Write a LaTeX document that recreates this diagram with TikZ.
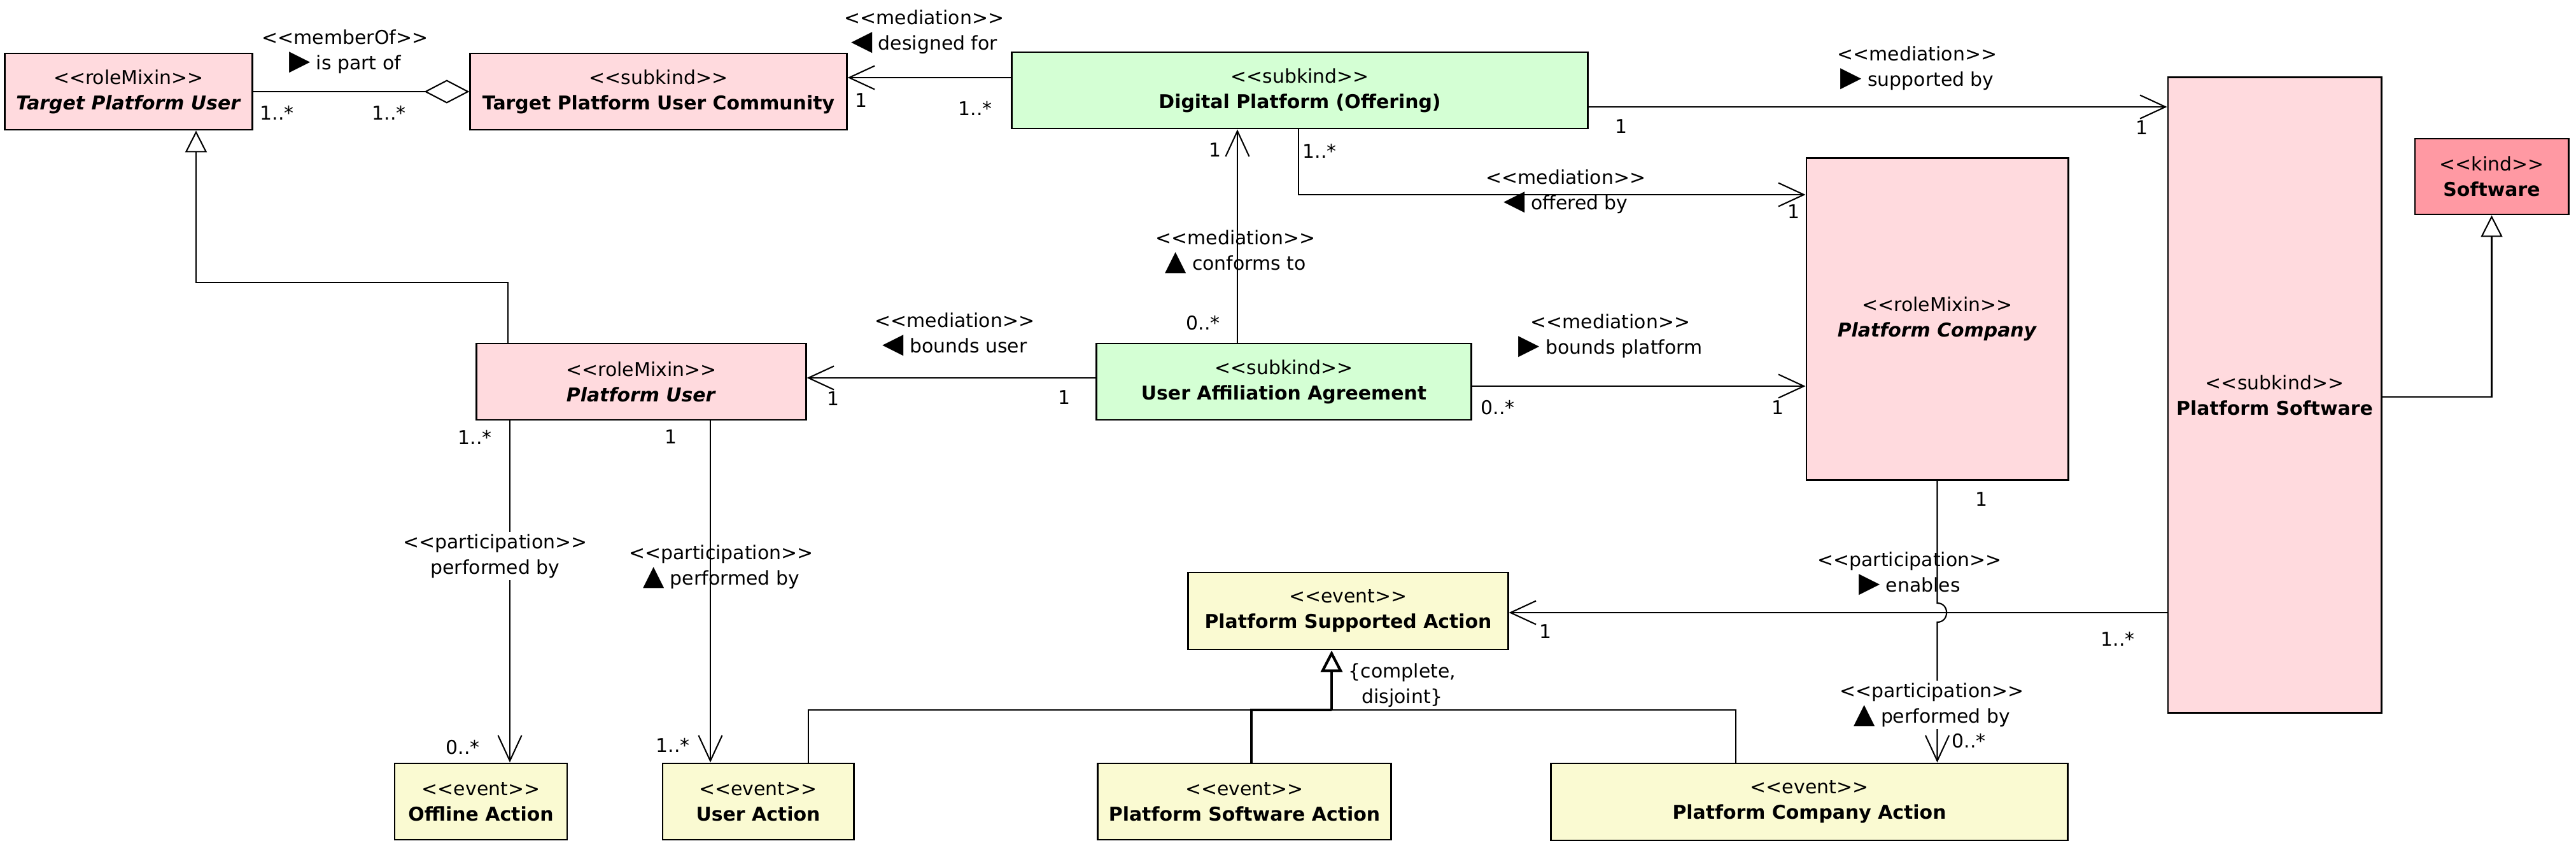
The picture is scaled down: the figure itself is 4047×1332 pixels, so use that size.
\documentclass[tikz,border=0pt]{standalone}
\usepackage{fontspec}
\usepackage{graphicx}
\usetikzlibrary{arrows.meta}
\newfontfamily\umlfont{DejaVu Sans}
\definecolor{rolepink}{RGB}{255,218,222}
\definecolor{kindpink}{RGB}{255,153,163}
\definecolor{relgreen}{RGB}{212,255,212}
\definecolor{eventyellow}{RGB}{250,250,210}
\newcommand{\readdir}[1]{\scalebox{1.45}{#1}}

\tikzset{
    umlbox/.style={draw, line width=0.8pt, align=center, inner sep=0pt},
    assoc/.style={line width=0.6pt},
    navi/.style={assoc, -{Straight Barb[length=4mm, width=3.7mm]}},
    gen/.style={assoc, -{Triangle[open, length=3.4mm, width=3.4mm, fill=white]}},
    agg/.style={assoc, -{Diamond[open, length=7.1mm, width=3.7mm, fill=white]}},
    lbl/.style={align=center, inner sep=1pt},
    mult/.style={inner sep=0pt},
}

\begin{document}
\begin{tikzpicture}[x=0.01cm, y=-0.01cm, font=\umlfont\fontsize{8.5}{11.4}\selectfont]
    \useasboundingbox (0,0) rectangle (4047,1332);

    % Top row
    \node[umlbox, fill=rolepink, minimum width=3.88cm, minimum height=1.2cm] (tpu) at (202,144) {<<roleMixin>>\\\textbf{\textit{Target Platform User}}};
    \node[umlbox, fill=rolepink, minimum width=5.91cm, minimum height=1.2cm] (tpuc) at (1034.5,144) {<<subkind>>\\\textbf{Target Platform User Community}};
    \node[umlbox, fill=relgreen, minimum width=9.04cm, minimum height=1.2cm] (dp) at (2042,142) {<<subkind>>\\\textbf{Digital Platform (Offering)}};
    \node[umlbox, fill=kindpink, minimum width=2.41cm, minimum height=1.19cm] (sw) at (3914.5,277.5) {<<kind>>\\\textbf{Software}};

    % Tall boxes
    \node[umlbox, fill=rolepink, minimum width=4.11cm, minimum height=5.05cm] (pc) at (3043.5,501.5) {<<roleMixin>>\\\textbf{\textit{Platform Company}}};
    \node[umlbox, fill=rolepink, minimum width=3.35cm, minimum height=9.98cm] (ps) at (3573.5,621) {<<subkind>>\\\textbf{Platform Software}};

    % Middle row
    \node[umlbox, fill=rolepink, minimum width=5.17cm, minimum height=1.2cm] (pu) at (1007.5,600) {<<roleMixin>>\\\textbf{\textit{Platform User}}};
    \node[umlbox, fill=relgreen, minimum width=5.88cm, minimum height=1.2cm] (uaa) at (2017,600) {<<subkind>>\\\textbf{User Affiliation Agreement}};
    \node[umlbox, fill=eventyellow, minimum width=5.02cm, minimum height=1.21cm] (psa) at (2118,960.5) {<<event>>\\\textbf{Platform Supported Action}};

    % Events
    \node[umlbox, fill=eventyellow, minimum width=2.71cm, minimum height=1.2cm] (oa) at (755.5,1260) {<<event>>\\\textbf{Offline Action}};
    \node[umlbox, fill=eventyellow, minimum width=3.00cm, minimum height=1.2cm] (ua) at (1191,1260) {<<event>>\\\textbf{User Action}};
    \node[umlbox, fill=eventyellow, minimum width=4.60cm, minimum height=1.2cm] (psoa) at (1955,1260) {<<event>>\\\textbf{Platform Software Action}};
    \node[umlbox, fill=eventyellow, minimum width=8.11cm, minimum height=1.21cm] (pca) at (2842.5,1260.5) {<<event>>\\\textbf{Platform Company Action}};

    % Mediations
    \draw[agg] (tpu.east) -- (tpuc.west);
    \draw[navi] (dp.west |- 0,122) -- (tpuc.east |- 0,122);
    \draw[navi] (dp.east |- 0,168) -- (ps.west |- 0,168);
    \draw[navi] (uaa.north -| 1944,0) -- (dp.south -| 1944,0);
    \draw[navi] (dp.south -| 2040,0) |- (pc.west |- 0,306);
    \draw[navi] (uaa.west |- 0,594) -- (pu.east |- 0,594);
    \draw[navi] (uaa.east |- 0,607) -- (pc.west |- 0,607);

    % Generalizations
    \draw[gen] (pu.north -| 798,0) |- (308,444) -- (tpu.south -| 308,0);
    \draw[gen] (ps.east |- 0,624) -| (sw.south);
    \coordinate (gsplit) at (2092,1116);
    \draw[assoc] (ua.north -| 1270,0) |- (gsplit);
    \draw[assoc] (pca.north -| 2727,0) |- (gsplit);
    \draw[assoc, line width=1.2pt] (psoa.north -| 1966,0) |- (gsplit);
    \draw[gen, line width=1.2pt] (gsplit) -- (psa.south -| gsplit);

    % Participations
    \draw[navi] (pu.south -| 801,0) -- (oa.north -| 801,0);
    \draw[navi] (pu.south -| 1116,0) -- (ua.north -| 1116,0);
    \draw[navi] (ps.west |- 0,963) -- (psa.east |- 0,963);
    \draw[navi] (pc.south) -- (pc.south |- 0,948) .. controls (3063,948) and (3063,978) .. (pc.south |- 0,978) -- (pca.north -| pc.south);

    % Labels
    \node[lbl] (memberof) at (542,81) {<<memberOf>>\\\readdir{▶} is part of};
    \node[lbl] (designed) at (1452,50) {<<mediation>>\\\readdir{◀} designed for};
    \node[lbl] (supported) at (3012,107) {<<mediation>>\\\readdir{▶} supported by};
    \node[lbl] (conforms) at (1941,396) {<<mediation>>\\\readdir{▲} conforms to};
    \node[lbl] (offered) at (2460,301) {<<mediation>>\\\readdir{◀} offered by};
    \node[lbl] (boundsuser) at (1500,526) {<<mediation>>\\\readdir{◀} bounds user};
    \node[lbl] (boundsplat) at (2530,528) {<<mediation>>\\\readdir{▶} bounds platform};
    \node[lbl, fill=white] (perfoff) at (778,874) {<<participation>>\\performed by};
    \node[lbl] (perfua) at (1133,891) {<<participation>>\\\readdir{▲} performed by};
    \node[lbl] (enables) at (3000,902) {<<participation>>\\\readdir{▶} enables};
    \node[lbl, fill=white] (perfpc) at (3035,1108) {<<participation>>\\\readdir{▲} performed by};
    \node[lbl] (complete) at (2203,1077) {\{complete,\\disjoint\}};

    % Multiplicities
    \node[mult] (m1) at (435,177) {1..*};
    \node[mult] (m2) at (611,177) {1..*};
    \node[mult] (m3) at (1353,158) {1};
    \node[mult] (m4) at (1532,170) {1..*};
    \node[mult] (m5) at (2547,199) {1};
    \node[mult] (m6) at (3365,201) {1};
    \node[mult] (m7) at (1909,236) {1};
    \node[mult] (m8) at (1890,508) {0..*};
    \node[mult] (m9) at (2073,237) {1..*};
    \node[mult] (m10) at (2818,333) {1};
    \node[mult] (m11) at (1309,627) {1};
    \node[mult] (m12) at (1672,625) {1};
    \node[mult] (m13) at (2353,641) {0..*};
    \node[mult] (m14) at (2793,641) {1};
    \node[mult] (m15) at (746,687) {1..*};
    \node[mult] (m16) at (1054,687) {1};
    \node[mult] (m17) at (727,1175) {0..*};
    \node[mult] (m18) at (1057,1171) {1..*};
    \node[mult] (m19) at (2428,993) {1};
    \node[mult] (m20) at (3327,1004) {1..*};
    \node[mult] (m21) at (3113,785) {1};
    \node[mult] (m22) at (3093,1165) {0..*};
\end{tikzpicture}
\end{document}
